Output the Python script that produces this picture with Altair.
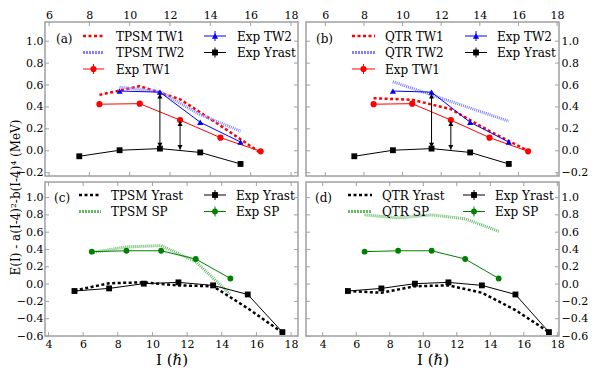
import altair as alt
import pandas as pd

# ---------------- data ----------------
I_yrast = [5.5, 7.5, 9.5, 11.5, 13.5, 15.5, 17.5]
exp_yrast = [-0.08, -0.05, 0.005, 0.02, -0.015, -0.12, -0.555]
tpsm_yrast = [-0.075, 0.01, 0.02, -0.015, -0.025, -0.28, -0.56]
qtr_yrast = [-0.08, -0.10, -0.025, -0.015, -0.10, -0.30, -0.555]

I_tw1 = [8.5, 10.5, 12.5, 14.5, 16.5]
exp_tw1 = [0.425, 0.43, 0.28, 0.12, -0.005]
tpsm_tw1 = [0.51, 0.59, 0.47, 0.23, -0.02]
qtr_tw1 = [0.48, 0.465, 0.38, 0.18, 0.0]

I_tw2 = [9.5, 11.5, 13.5, 15.5]
exp_tw2 = [0.545, 0.535, 0.26, 0.08]
tpsm_tw2 = [0.58, 0.54, 0.33, 0.18]
qtr_tw2 = [0.63, 0.51, 0.39, 0.27]

I_sp = [6.5, 8.5, 10.5, 12.5, 14.5]
exp_sp = [0.375, 0.385, 0.385, 0.29, 0.065]
tpsm_sp = [0.365, 0.43, 0.445, 0.26, -0.12]
qtr_sp = [0.80, 0.765, 0.80, 0.755, 0.61]

arrow_I = [11.5, 12.5]
arrow_lo = [0.03, 0.01]
arrow_hi = [0.52, 0.27]

x_ticks_top = [6, 8, 10, 12, 14, 16, 18]
x_ticks_bot = [4, 6, 8, 10, 12, 14, 16, 18]
y_ticks_top = [-0.2, 0.0, 0.2, 0.4, 0.6, 0.8, 1.0]
y_ticks_bot = [-0.6, -0.4, -0.2, 0.0, 0.2, 0.4, 0.6, 0.8, 1.0]

# ---------------- styling ----------------
W, H = 253, 154
FONT = "DejaVu Serif"
FRAME = "#a0a0a0"
RED, BLUE, BLACK, GREEN = "#ff0000", "#0000ff", "#000000", "#008000"
LBLUE, LGREEN = "#8080ff", "#66bb66"
ONE = pd.DataFrame({"k": [0]})


def frame_df(xs, ys):
    return pd.DataFrame({"I": xs, "v": ys})


def panel(xdom, ydom, xticks, yticks, xorient, yorient, series, arrows,
          legend, label, xtitle=False, ytitle=False):
    xs = alt.Scale(domain=xdom, nice=False, zero=False)
    ys = alt.Scale(domain=ydom, nice=False, zero=False)

    xa = dict(orient=xorient, values=xticks, format="d", labelFlush=False,
              labelOverlap=False, title=None)
    if xtitle:
        xa.update(title="I (ℏ)", titleFontSize=15, titlePadding=3)
    ya = dict(orient=yorient, values=yticks, format=".1f", labelFlush=False,
              labelOverlap=False, title=None)
    if ytitle:
        ya.update(title="E(I) - a(I-4)²-b(I-4)⁴ (MeV)", titleFontSize=12,
                  titleAngle=270, titleAlign="center", titleBaseline="bottom",
                  titleX=-23, titleY=15)

    def XF(f):
        return alt.X(f, type="quantitative", scale=xs, axis=alt.Axis(**xa))

    def YF(f):
        return alt.Y(f, type="quantitative", scale=ys, axis=alt.Axis(**ya))

    layers = []
    # inward ticks on all four sides
    xt = pd.DataFrame({"t": xticks})
    yt = pd.DataFrame({"t": yticks})
    tick = dict(color=FRAME, strokeWidth=1)
    layers.append(alt.Chart(xt).mark_rule(**tick).encode(
        x=XF("t"), y=alt.value(0), y2=alt.value(4)))
    layers.append(alt.Chart(xt).mark_rule(**tick).encode(
        x=XF("t"), y=alt.value(H - 4), y2=alt.value(H)))
    layers.append(alt.Chart(yt).mark_rule(**tick).encode(
        y=YF("t"), x=alt.value(0), x2=alt.value(4)))
    layers.append(alt.Chart(yt).mark_rule(**tick).encode(
        y=YF("t"), x=alt.value(W - 4), x2=alt.value(W)))

    # model curves first, then experiment
    for s in series:
        d = frame_df(s["x"], s["y"])
        kw = dict(color=s["color"], strokeWidth=s["width"])
        if "dash" in s:
            kw["strokeDash"] = s["dash"]
        layers.append(alt.Chart(d).mark_line(**kw).encode(x=XF("I"), y=YF("v")))
        if "shape" in s:
            layers.append(alt.Chart(d).mark_point(
                shape=s["shape"], filled=True, size=s["size"], color=s["color"],
                opacity=1).encode(x=XF("I"), y=YF("v")))

    if arrows:
        ad = pd.DataFrame({"I": arrow_I, "lo": arrow_lo, "hi": arrow_hi})
        layers.append(alt.Chart(ad).mark_rule(color=BLACK, strokeWidth=1).encode(
            x=XF("I"), y=YF("lo"), y2="hi:Q"))
        layers.append(alt.Chart(ad).mark_point(
            shape="triangle-up", filled=True, size=26, color=BLACK, opacity=1,
            yOffset=2.5).encode(x=XF("I"), y=YF("hi")))
        layers.append(alt.Chart(ad).mark_point(
            shape="triangle-down", filled=True, size=26, color=BLACK, opacity=1,
            yOffset=-2.5).encode(x=XF("I"), y=YF("lo")))

    # legend (decoration placed in panel pixels)
    for it in legend:
        x1, x2, yc = it["x1"], it["x2"], it["y"]
        kw = dict(color=it["color"], strokeWidth=it["width"])
        if "dash" in it:
            kw["strokeDash"] = it["dash"]
        layers.append(alt.Chart(ONE).mark_rule(**kw).encode(
            x=alt.value(x1), x2=alt.value(x2), y=alt.value(yc)))
        if "shape" in it:
            xm = (x1 + x2) / 2
            layers.append(alt.Chart(ONE).mark_rule(color=it["color"], strokeWidth=1).encode(
                x=alt.value(xm), y=alt.value(yc - 5), y2=alt.value(yc + 5)))
            layers.append(alt.Chart(ONE).mark_point(
                shape=it["shape"], filled=True, size=it["size"], color=it["color"],
                opacity=1).encode(x=alt.value(xm), y=alt.value(yc)))
        layers.append(alt.Chart(ONE).mark_text(
            text=it["text"], align="left", baseline="alphabetic", font=FONT,
            fontSize=12, color="black").encode(x=alt.value(it["tx"]), y=alt.value(yc + 4.5)))
    layers.append(alt.Chart(ONE).mark_text(
        text=label[0], align="left", baseline="alphabetic", font=FONT, fontSize=12,
        color="black").encode(x=alt.value(label[1]), y=alt.value(label[2])))

    return alt.layer(*layers).properties(width=W, height=H)


def S(x, y, color, width, dash=None, shape=None, size=None):
    d = dict(x=x, y=y, color=color, width=width)
    if dash:
        d["dash"] = dash
    if shape:
        d["shape"] = shape
        d["size"] = size
    return d


def L(text, x1, x2, tx, y, color, width, dash=None, shape=None, size=None):
    d = dict(text=text, x1=x1, x2=x2, tx=tx, y=y, color=color, width=width)
    if dash:
        d["dash"] = dash
    if shape:
        d["shape"] = shape
        d["size"] = size
    return d


DOT = [3, 2.5]
FINE = [1, 1]
FINE_LEG = [2, 1]
top_ydom = [-0.23, 1.175]
bot_ydom = [-0.6, 1.18]

exp_top = [
    S(I_tw1, exp_tw1, RED, 1, shape="circle", size=38),
    S(I_tw2, exp_tw2, BLUE, 1, shape="triangle-up", size=38),
    S(I_yrast[1:6], exp_yrast[1:6], BLACK, 1, shape="square", size=34),
]

pa = panel([5.8, 18.35], top_ydom, x_ticks_top, y_ticks_top, "top", "left",
           [S(I_tw1, tpsm_tw1, RED, 2.5, DOT), S(I_tw2, tpsm_tw2, LBLUE, 3, FINE)] + exp_top,
           True,
           [L("TPSM TW1", 38, 59, 71, 14, RED, 2.5, DOT),
            L("TPSM TW2", 38, 59, 71, 30.5, LBLUE, 3, FINE_LEG),
            L("Exp TW1", 38, 59, 71, 47, RED, 1, shape="circle", size=38),
            L("Exp TW2", 159, 181, 192, 14, BLUE, 1, shape="triangle-up", size=38),
            L("Exp Yrast", 159, 181, 192, 30.5, BLACK, 1, shape="square", size=34)],
           ("(a)", 11, 20.5))

pb = panel([5.0, 18.1], top_ydom, x_ticks_top, y_ticks_top, "top", "right",
           [S(I_tw1, qtr_tw1, RED, 2.5, DOT), S(I_tw2, qtr_tw2, LBLUE, 3, FINE)] + exp_top,
           True,
           [L("QTR TW1", 46, 69, 79, 14, RED, 2.5, DOT),
            L("QTR TW2", 46, 69, 79, 30.5, LBLUE, 3, FINE_LEG),
            L("Exp TW1", 46, 69, 79, 47, RED, 1, shape="circle", size=38),
            L("Exp TW2", 159, 181, 191, 14, BLUE, 1, shape="triangle-up", size=38),
            L("Exp Yrast", 159, 181, 191, 30.5, BLACK, 1, shape="square", size=34)],
           ("(b)", 10, 20.5))

exp_bot = [
    S(I_yrast, exp_yrast, BLACK, 1, shape="square", size=34),
    S(I_sp, exp_sp, GREEN, 1, shape="circle", size=34),
]

pc = panel([3.8, 18.4], bot_ydom, x_ticks_bot, y_ticks_bot, "bottom", "left",
           [S(I_yrast, tpsm_yrast, BLACK, 2.5, DOT), S(I_sp, tpsm_sp, LGREEN, 3, FINE)] + exp_bot,
           False,
           [L("TPSM Yrast", 34, 56, 66, 13, BLACK, 2.5, DOT),
            L("TPSM SP", 34, 56, 66, 29.5, LGREEN, 3, FINE_LEG),
            L("Exp Yrast", 159, 181, 191, 13, BLACK, 1, shape="square", size=34),
            L("Exp SP", 159, 181, 191, 29.5, GREEN, 1, shape="circle", size=34)],
           ("(c)", 9, 19.5), xtitle=True, ytitle=True)

pd_ = panel([3.0, 18.1], bot_ydom, x_ticks_bot, y_ticks_bot, "bottom", "right",
            [S(I_yrast, qtr_yrast, BLACK, 2.5, DOT), S(I_sp, qtr_sp, LGREEN, 3, FINE)] + exp_bot,
            False,
            [L("QTR Yrast", 42, 66, 76, 13, BLACK, 2.5, DOT),
             L("QTR SP", 42, 66, 76, 29.5, LGREEN, 3, FINE_LEG),
             L("Exp Yrast", 157, 179, 189, 13, BLACK, 1, shape="square", size=34),
             L("Exp SP", 157, 179, 189, 29.5, GREEN, 1, shape="circle", size=34)],
            ("(d)", 9, 19.5), xtitle=True)

chart = alt.concat(pa, pb, pc, pd_, columns=2, spacing={"row": 6, "column": 8},
                   bounds="flush").properties(padding=0).configure_view(
    stroke=FRAME, strokeWidth=1.5
).configure_axis(
    labelFont=FONT, labelFontSize=11, labelColor="black", domain=False,
    ticks=False, tickSize=0, grid=False, labelPadding=2, titleFont=FONT,
    titleFontWeight="normal", titleColor="black"
)

chart.save("out.html", embed_options={"renderer": "svg", "actions": False})
